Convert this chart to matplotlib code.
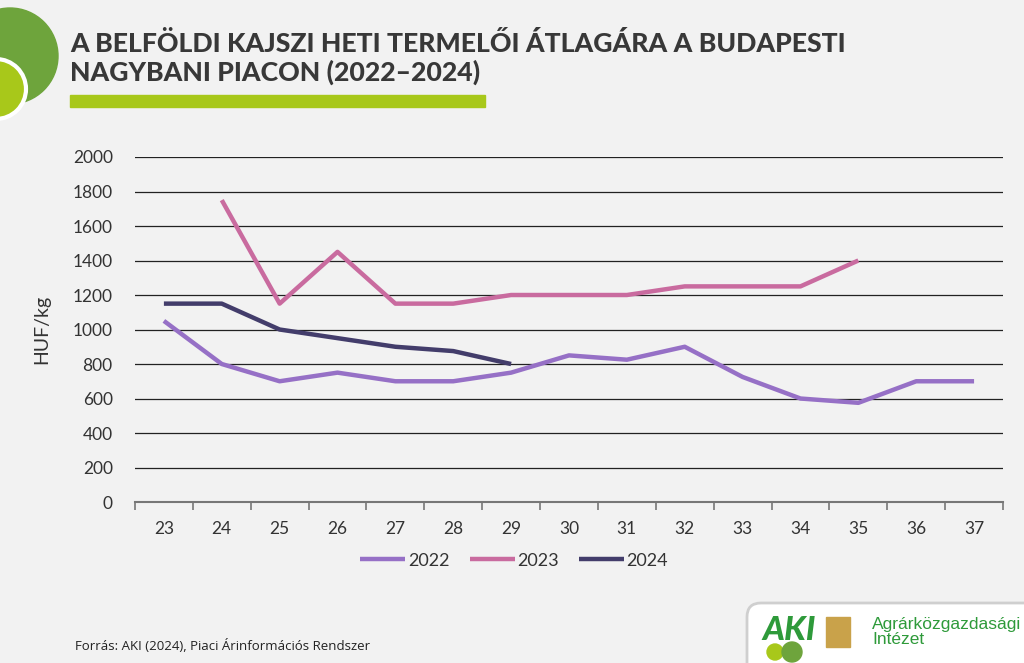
import numpy as np
import matplotlib
matplotlib.use('Agg')
import matplotlib.pyplot as plt
from matplotlib.patches import Circle, Rectangle, FancyBboxPatch

# data
weeks = ['23', '24', '25', '26', '27', '28', '29', '30', '31', '32', '33', '34', '35', '36', '37']
y2022 = [1050, 800, 700, 750, 700, 700, 750, 850, 825, 900, 725, 600, 575, 700, 700]
y2023 = [np.nan, 1750, 1150, 1450, 1150, 1150, 1200, 1200, 1200, 1250, 1250, 1250, 1400, np.nan, np.nan]
y2024 = [1150, 1150, 1000, 950, 900, 875, 800, np.nan, np.nan, np.nan, np.nan, np.nan, np.nan, np.nan, np.nan]
yticks = [0, 200, 400, 600, 800, 1000, 1200, 1400, 1600, 1800, 2000]

bg = '#f2f2f2'
plt.rcParams['font.family'] = ['Lato', 'DejaVu Sans']

fig = plt.figure(figsize=(10.24, 6.63), dpi=100, facecolor=bg)

# overlay in pixel coordinates for the decorations
deco = fig.add_axes([0, 0, 1, 1], zorder=0)
deco.set_xlim(0, 1024)
deco.set_ylim(663, 0)
deco.axis('off')

ax = fig.add_axes([0.1318, 0.2428, 0.8477, 0.5204], zorder=1)
ax.set_facecolor(bg)

x = np.arange(len(weeks))
ax.plot(x, y2022, color='#9670c6', lw=3.2, label='2022', solid_capstyle='butt')
ax.plot(x, y2023, color='#c96b9f', lw=3.2, label='2023', solid_capstyle='butt')
ax.plot(x, y2024, color='#433d6b', lw=3.2, label='2024', solid_capstyle='butt')

ax.set_xlim(-0.5, len(weeks) - 0.5)
ax.set_ylim(0, 2000)
ax.set_yticks(yticks)
ax.set_yticklabels([str(v) for v in yticks], fontsize=12.5, color='#333333')
ax.set_xticks(x)
ax.set_xticklabels(weeks, fontsize=12.5, color='#333333')
ax.tick_params(axis='x', length=0, pad=14)
ax.tick_params(axis='y', length=0, pad=16)
ax.set_xticks(np.arange(-0.5, len(weeks), 1), minor=True)
ax.tick_params(axis='x', which='minor', length=6, color='#777777', width=1.2)
ax.grid(axis='y', color='#222222', lw=0.9)
ax.set_axisbelow(True)
for s in ['top', 'right', 'left']:
    ax.spines[s].set_visible(False)
ax.spines['bottom'].set_color('#777777')
ax.spines['bottom'].set_linewidth(1.5)
ax.set_ylabel('HUF/kg', fontsize=14, color='#333333', labelpad=16)

leg = ax.legend(loc='center', bbox_to_anchor=(0.437, -0.17), ncol=3, frameon=False,
                fontsize=13, handlelength=2.5, handletextpad=0.15, columnspacing=1.1)
for t in leg.get_texts():
    t.set_color('#333333')

# header decoration
deco.add_patch(Circle((10, 56), 48, color='#6ea43c', zorder=1))
deco.add_patch(Circle((-4, 89), 30, facecolor='#a8c81a', edgecolor='white', lw=3, zorder=2))
deco.add_patch(Rectangle((70, 95), 415, 12, color='#a8c81a'))
deco.text(70, 43, 'A BELFÖLDI KAJSZI HETI TERMELŐI ÁTLAGÁRA A BUDAPESTI',
          fontsize=19.2, fontweight='black', color='#383838', va='center', ha='left')
deco.text(70, 72, 'NAGYBANI PIACON (2022–2024)',
          fontsize=19.2, fontweight='black', color='#383838', va='center', ha='left')

# footer
deco.text(75, 646, 'Forrás: AKI (2024), Piaci Árinformációs Rendszer',
          fontsize=9.5, color='#222222', va='center', family=['Open Sans', 'DejaVu Sans'])
deco.add_patch(FancyBboxPatch((747, 603), 320, 80, boxstyle='round,pad=0,rounding_size=14',
                              facecolor='white', edgecolor='#cfcfcf', lw=2))
deco.add_patch(Circle((775, 652), 8, color='#a8c81a', zorder=2))
deco.add_patch(Circle((792, 652), 10, color='#6ea43c', zorder=2))
deco.text(762, 630, 'AKI', fontsize=24, fontweight='black', color='#2e9a3a',
          va='center', ha='left', style='italic', zorder=3)
deco.add_patch(Rectangle((826, 617), 24, 30, color='#c9a24a'))
deco.text(872, 632, 'Agrárközgazdasági\nIntézet', fontsize=12.5, color='#2e9a3a',
          va='center', ha='left', linespacing=1.0, family=['Liberation Sans', 'DejaVu Sans'])

fig.savefig('out.png', dpi=100, facecolor=bg)
